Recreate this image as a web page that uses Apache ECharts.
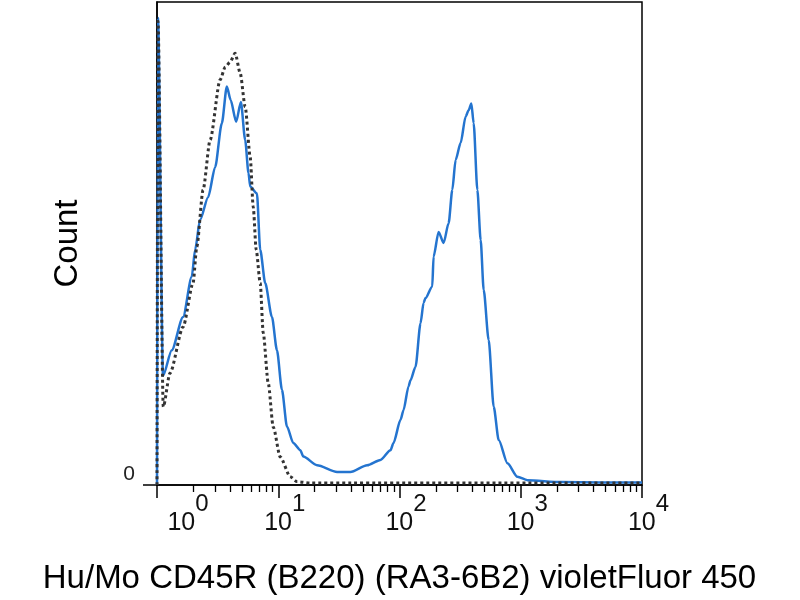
<!DOCTYPE html>
<html>
<head>
<meta charset="utf-8">
<script src="https://cdn.jsdelivr.net/npm/echarts@6.0.0/dist/echarts.min.js"></script>
<style>
  html, body { margin: 0; padding: 0; background: #fff; }
  #main { width: 800px; height: 600px; }
</style>
</head>
<body>
<div id="main"></div>
<script>
// sample (blue, solid) - fluorescence / count
var sampleFluor = [1, 1.019, 1.121, 1.323, 1.64, 1.935, 2.061, 2.267, 2.639, 3.016, 3.425, 3.767, 4.05, 4.497, 4.918, 5.338, 5.683, 5.871, 6.668, 7.101, 7.808, 8.872, 9.757, 10.73, 11.8, 13.3, 15.2, 16.09, 20.89, 30.56, 39.36, 54.08, 69.66, 84.27, 89.21, 102, 107.9, 118.7, 123.3, 135.6, 149.1, 157.9, 164, 186.3, 191, 210.1, 231, 254.1, 272.6, 290.2, 319.2, 351.2, 371.7, 391.4, 408.9, 438.7, 467, 494.6, 543.8, 598.3, 658, 776.6, 939.1, 1136, 2141, 4581, 10000];
var sampleCount = [0, 96.7, 22.6, 27.9, 34.8, 43.1, 48.7, 54.9, 59.6, 65.8, 74.9, 82.5, 79.7, 75.2, 79.3, 71.4, 64.6, 61.8, 60.4, 48.7, 41.8, 34.8, 27.9, 19.7, 12.1, 8.7, 7.2, 5.9, 4.1, 2.7, 2.7, 4.1, 5.2, 7.2, 8.7, 13.5, 15.5, 20.4, 21.7, 24.5, 33.5, 37.7, 38.7, 41.1, 47.3, 52.4, 50.1, 54.2, 61.1, 67.3, 70.8, 76.3, 77.6, 79.0, 74.9, 61.1, 50.7, 40.4, 30.0, 16.2, 9.3, 4.5, 1.7, 1.0, 0.6, 0.5, 0.5];

// isotype control (gray, dotted)
var controlFluor = [1, 1.019, 1.127, 1.281, 1.64, 1.984, 2.129, 2.4, 2.742, 3.317, 3.648, 4.012, 4.413, 4.853, 5.338, 5.871, 6.216, 6.579, 7.101, 7.516, 8.268, 9.093, 10.39, 12.57, 14.27, 18.38, 10000];
var controlCount = [0, 96, 16.2, 23.2, 32.7, 41.8, 49.3, 61.1, 71.4, 83.9, 86.5, 87.6, 89.4, 85.3, 78.3, 67.9, 57.6, 48.7, 41.8, 31.5, 21.1, 12.0, 5.8, 1.7, 0.7, 0.4, 0.4];

// axes
var majorTicks = [1, 10, 100, 1000, 10000];
var yTicks = [0];
var xTitle = 'Hu/Mo CD45R (B220) (RA3-6B2) violetFluor 450';
var yTitle = 'Count';

var minorTicks = [];
for (var d = 0; d < majorTicks.length - 1; d++) {
  for (var m = 2; m <= 9; m++) {
    minorTicks.push(majorTicks[d] * m);
  }
}

function toPairs(xs, ys) {
  var out = [];
  for (var i = 0; i < xs.length; i++) {
    out.push([xs[i], ys[i]]);
  }
  return out;
}

var myChart = echarts.init(document.getElementById('main'));

var option = {
  animation: false,
  backgroundColor: '#fff',
  textStyle: { fontFamily: 'Liberation Sans, Arial, sans-serif' },
  grid: {
    left: 157,
    right: 158,
    top: 2,
    bottom: 115,
    show: true,
    borderColor: '#000',
    borderWidth: 1.5,
    backgroundColor: 'transparent',
    containLabel: false,
    outerBoundsMode: 'none'
  },
  xAxis: [{
    type: 'log',
    logBase: 10,
    min: 1,
    max: 10000,
    position: 'bottom',
    axisLine: { show: true, onZero: false, lineStyle: { color: '#000', width: 1.5 } },
    axisTick: { show: true, length: 13, customValues: majorTicks, lineStyle: { color: '#000', width: 1.5 } },
    axisLabel: {
      customValues: majorTicks,
      margin: 7,
      color: '#111',
      formatter: function (v) {
        var e = Math.round(Math.log(v) / Math.LN10);
        // first label sits right of the axis, like the original
        return (e === 0 ? '{pw|}' : '{p|}') + '{b|10}{s|' + e + '}';
      },
      rich: {
        p: { width: 13, lineHeight: 44 },
        pw: { width: 62, lineHeight: 44 },
        b: { fontSize: 25, lineHeight: 25, verticalAlign: 'bottom', color: '#111' },
        s: { fontSize: 24, lineHeight: 26, verticalAlign: 'top', color: '#111' }
      }
    },
    splitLine: { show: false },
    name: xTitle,
    nameLocation: 'middle',
    nameGap: 77,
    nameTextStyle: { fontSize: 33, color: '#000' }
  }, {
    // minor log ticks only
    type: 'log',
    logBase: 10,
    min: 1,
    max: 10000,
    position: 'bottom',
    axisLine: { show: false },
    axisTick: { show: true, length: 7, customValues: minorTicks, lineStyle: { color: '#000', width: 1.3 } },
    axisLabel: { show: false },
    splitLine: { show: false }
  }],
  yAxis: {
    type: 'value',
    min: 0,
    max: 100,
    axisLine: { show: true, lineStyle: { color: '#000', width: 1.5 } },
    axisTick: { show: true, length: 14, customValues: yTicks, lineStyle: { color: '#000', width: 1.5 } },
    axisLabel: { customValues: yTicks, margin: 22, fontSize: 21, color: '#222', verticalAlign: 'bottom' },
    splitLine: { show: false },
    name: yTitle,
    nameLocation: 'middle',
    nameGap: 73,
    nameTextStyle: { fontSize: 33, color: '#000' }
  },
  series: [{
    name: 'CD45R',
    type: 'line',
    xAxisIndex: 0,
    data: toPairs(sampleFluor, sampleCount),
    showSymbol: false,
    symbol: 'none',
    smooth: 0.25,
    smoothMonotone: 'x',
    lineStyle: { color: '#2474cf', width: 2.5 },
    z: 2
  }, {
    name: 'Isotype',
    type: 'line',
    xAxisIndex: 0,
    data: toPairs(controlFluor, controlCount),
    showSymbol: false,
    symbol: 'none',
    smooth: 0.25,
    smoothMonotone: 'x',
    lineStyle: { color: '#333', width: 3, type: [3, 3] },
    z: 3
  }]
};

myChart.setOption(option);
</script>
</body>
</html>
